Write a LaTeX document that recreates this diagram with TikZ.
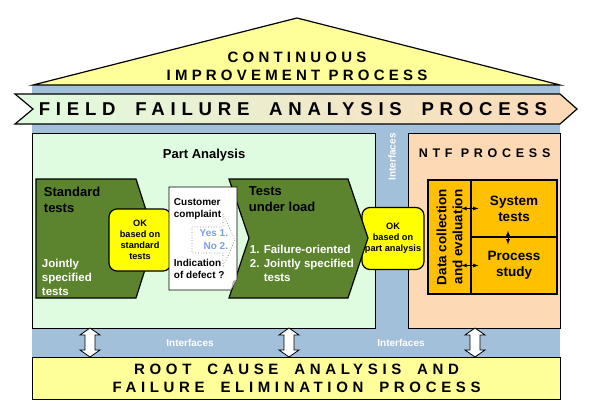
\documentclass[tikz,border=0pt]{standalone}
\usepackage{fontspec}
\setmainfont{Liberation Sans}
\newfontfamily\wideletters[LetterSpace=28]{Liberation Sans}
\newfontfamily\widerletters[LetterSpace=31, WordSpace=1.8]{Liberation Sans}
\newfontfamily\ntfletters[LetterSpace=38]{Liberation Sans}
\usetikzlibrary{positioning}

\definecolor{roofyellow}{HTML}{FFFF99}
\definecolor{wallblue}{HTML}{A3C0DA}
\definecolor{partgreen}{HTML}{E0FCE0}
\definecolor{ntfpeach}{HTML}{FDD9B6}
\definecolor{chevgreen}{HTML}{5C832D}
\definecolor{okyellow}{HTML}{FFFF00}
\definecolor{ntforange}{HTML}{FFC000}
\definecolor{yesblue}{HTML}{7C9EE6}

\tikzset{
  panel/.style={draw, line width=1.2pt, inner sep=0pt, anchor=north west},
  okbox/.style={draw, line width=1.2pt, fill=okyellow, rounded corners=8pt,
    minimum width=62pt, minimum height=62pt, inner sep=0pt, align=center,
    font=\bfseries\fontsize{9.2}{11}\selectfont},
  ntfbox/.style={draw, line width=1.2pt, fill=ntforange, inner sep=0pt, align=center,
    font=\bfseries\fontsize{13.5}{16}\selectfont},
  bigtitle/.style={align=center, font=\wideletters\bfseries\fontsize{15}{18}\selectfont},
  chevtext/.style={anchor=north west, align=left, font=\bfseries\fontsize{13}{16}\selectfont},
  whitetext/.style={anchor=north west, align=left, text=white,
    font=\bfseries\fontsize{11.5}{14}\selectfont},
  doctext/.style={anchor=north west, align=left, font=\bfseries\fontsize{10}{12}\selectfont},
  iflabel/.style={text=white, font=\bfseries\fontsize{10}{12}\selectfont}
}

\begin{document}
\begin{tikzpicture}[x=1pt, y=-1pt, line width=1.2pt]
  \useasboundingbox (0,0) rectangle (593,404);

  % wall and roof
  \fill[wallblue] (32,85) rectangle (560,357);
  \draw[fill=roofyellow] (33,85) -- (297,18) -- (560,85) -- cycle;
  \node[bigtitle] (roof) at (297,66) {CONTINUOUS\\IMPROVEMENT PROCESS};

  % banner
  \draw[left color=partgreen, right color=ntfpeach] (15,94) -- (560,94) -- (577,109)
    -- (560,124) -- (15,124) -- (33,109) -- cycle;
  \node[bigtitle, font=\widerletters\bfseries\fontsize{18.6}{22}\selectfont] (ffa) at (293,109)
    {FIELD FAILURE ANALYSIS PROCESS};

  % part analysis and NTF frames
  \node[panel, fill=partgreen, minimum width=343pt, minimum height=195pt] (part) at (32,133) {};
  \node[below=12pt of part.north, font=\bfseries\fontsize{13}{15}\selectfont] (partname) {Part Analysis};
  \node[panel, fill=ntfpeach, minimum width=152pt, minimum height=195pt] (ntf) at (408,133) {};
  \node[below=12pt of ntf.north, font=\ntfletters\bfseries\fontsize{12.5}{15}\selectfont] (ntfname) {NTF PROCESS};

  \draw[fill=chevgreen] (36,179) -- (136,179) -- (155,238) -- (136,298) -- (36,298) -- cycle;
  \node[chevtext] (std) at (40,183) {Standard\\tests};
  \node[whitetext] (stdjoint) at (38,255) {Jointly\\specified\\tests};
  \node[okbox] (okstd) at (140,240) {OK\\based on\\standard\\tests};

  \node[okbox] (okpart) at (393,238.5) {OK\\based on\\part analysis};
  \draw[fill=chevgreen] (229,179) -- (348,179) -- (368,238) -- (348,298) -- (229,298) -- (249,238) -- cycle;
  \node[chevtext] (load) at (245,183) {Tests\\under load};
  \node[whitetext] (loadlist) at (246,241) {1. Failure-oriented\\2. Jointly specified\\\hphantom{2. }tests};

  % customer complaint sheet
  \draw[line width=0.6pt, fill=white] (169,187) -- (237,187) -- (237,279) -- (231,290) -- (169,290) -- cycle;
  \fill[gray!60] (231,290) -- (233,281) -- (237,279) -- cycle;
  \node[doctext] (complaint) at (170,195) {Customer\\complaint};
  \draw[dotted, gray, line width=0.7pt] (192,227) -- (223,227) -- (223,214) -- (235,240)
    -- (223,267) -- (223,253) -- (192,253) -- cycle;
  \node[anchor=east, align=right, text=yesblue, font=\bfseries\fontsize{10}{13}\selectfont]
    (yesno) at (232,240) {Yes 1.\\No 2.};
  \node[doctext] (defect) at (170,255) {Indication\\of defect ?};

  \node[iflabel, rotate=90] (ifvert) at (392,157) {Interfaces};

  % NTF content
  \node[ntfbox, rotate=90, minimum width=114pt, minimum height=43pt] (datacol) at (449.5,237)
    {Data collection\\and evaluation};
  \node[ntfbox, minimum width=86pt, minimum height=57pt] (sys) at (514,208.5) {System\\tests};
  \node[ntfbox, minimum width=86pt, minimum height=57pt] (proc) at (514,265.5) {Process\\study};
  \draw[<->, >=latex, line width=0.8pt] ([xshift=-9pt]sys.west) -- ([xshift=8pt]sys.west);
  \draw[<->, >=latex, line width=0.8pt] ([xshift=-9pt]proc.west) -- ([xshift=8pt]proc.west);
  \draw[<->, >=latex, line width=0.8pt] ([xshift=-6pt, yshift=7pt]sys.south) -- ([xshift=-6pt, yshift=-8pt]proc.north);

  % root cause
  \node[panel, fill=roofyellow, minimum width=528pt, minimum height=42pt, bigtitle,
    font=\widerletters\bfseries\fontsize{15}{18}\selectfont] (root) at (32,357)
    {ROOT CAUSE ANALYSIS AND\\FAILURE ELIMINATION PROCESS};

  % interfaces
  \foreach \ax in {90,289,475}
    \draw[fill=white, line width=0.8pt] (\ax,328) -- ++(10,7) -- ++(-5,0) -- ++(0,15) -- ++(5,0)
      -- ++(-10,7) -- ++(-10,-7) -- ++(5,0) -- ++(0,-15) -- ++(-5,0) -- cycle;
  \node[iflabel] (ifleft) at (190,343) {Interfaces};
  \node[iflabel] (ifright) at (401,343) {Interfaces};
\end{tikzpicture}
\end{document}
